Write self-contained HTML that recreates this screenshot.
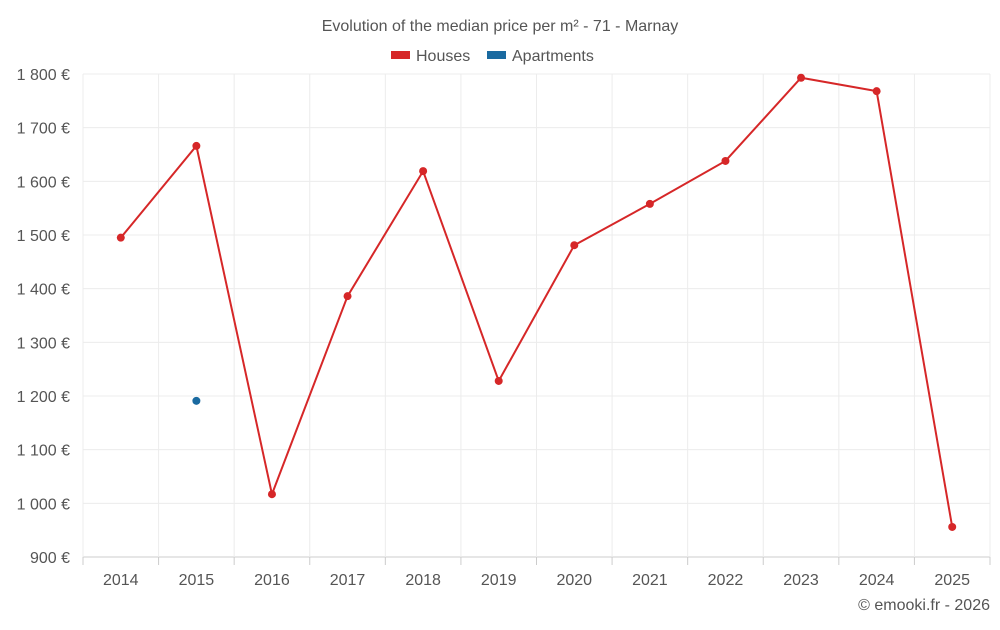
<!DOCTYPE html>
<html><head><meta charset="utf-8"><style>
body{margin:0;background:#fff;font-family:"Liberation Sans",sans-serif;}
svg text{font-family:"Liberation Sans",sans-serif;fill:#555;}
</style></head><body>
<svg id="c" width="1000" height="625">
<text x="500" y="31" text-anchor="middle" font-size="16">Evolution of the median price per m² - 71 - Marnay</text>
<g>
<rect x="391" y="51" width="19" height="8" fill="#d62728"/>
<text x="416" y="61" font-size="16">Houses</text>
<rect x="487" y="51" width="19" height="8" fill="#1a6aa0"/>
<text x="512" y="61" font-size="16">Apartments</text>
</g>
<g id="grid"></g><g id="axes"></g><g id="marks"></g>
<text x="990" y="610" text-anchor="end" font-size="16">© emooki.fr - 2026</text>
</svg>
<script>
const years=["2014","2015","2016","2017","2018","2019","2020","2021","2022","2023","2024","2025"];
const houses=[1495,1666,1017,1386,1619,1228,1481,1558,1638,1793,1768,956];
const apartments=[null,1191,null,null,null,null,null,null,null,null,null,null];
const yTicks=[900,1000,1100,1200,1300,1400,1500,1600,1700,1800];
const NS="http://www.w3.org/2000/svg";
const L=83,R=990,T=74,B=557,yMin=900,yMax=1800;
const bw=(R-L)/years.length;
const x=i=>L+bw*(i+0.5);
const y=v=>B-(v-yMin)/(yMax-yMin)*(B-T);
function mk(tag,attrs,parent){const e=document.createElementNS(NS,tag);for(const k in attrs)e.setAttribute(k,attrs[k]);document.getElementById(parent).appendChild(e);return e;}
yTicks.forEach(t=>{
 const g=mk('line',{x1:L,x2:R,y1:y(t),y2:y(t),stroke:t===yMin?'#ccc':'#ececec'},'grid');
 
 
 const lb=mk('text',{x:70,y:y(t)+6,'text-anchor':'end','font-size':16},'axes');
 lb.textContent=String(t).replace(/\B(?=(\d{3})+$)/,' ')+' €';
 
 
});
for(let i=0;i<=years.length;i++){
 const g=mk('line',{x1:L+bw*i,x2:L+bw*i,y1:T,y2:B+(i===0?0:0),stroke:'#ececec'},'grid');
 
 
 const tk=mk('line',{x1:L+bw*i,x2:L+bw*i,y1:B,y2:B+8,stroke:'#ccc'},'axes');
 
 
}
years.forEach((yr,i)=>{
 const lb=mk('text',{x:x(i),y:585,'text-anchor':'middle','font-size':16},'axes');
 lb.textContent=yr;
 
 
});
const pts=houses.map((v,i)=>x(i)+','+y(v)).join(' ');
const pl=mk('polyline',{points:pts,fill:'none',stroke:'#d62728','stroke-width':2},'marks');


houses.forEach((v,i)=>{
 const c=mk('circle',{cx:x(i),cy:y(v),r:4,fill:'#d62728'},'marks');
 
 
});
apartments.forEach((v,i)=>{
 if(v==null)return;
 const c=mk('circle',{cx:x(i),cy:y(v),r:4,fill:'#1a6aa0'},'marks');
 
 
});
</script>
</body></html>
